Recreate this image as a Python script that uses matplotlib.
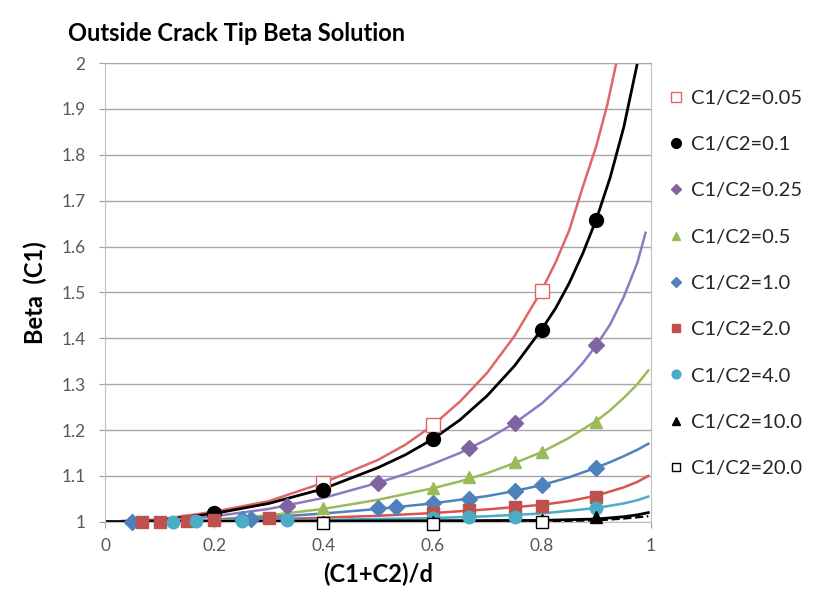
import matplotlib

matplotlib.use("Agg")
import matplotlib.pyplot as plt

plt.rcParams["font.family"] = ["Lato", "DejaVu Sans"]

############### DATA ###############
series_labels = ["C1/C2=0.05", "C1/C2=0.1", "C1/C2=0.25", "C1/C2=0.5", "C1/C2=1.0",
                 "C1/C2=2.0", "C1/C2=4.0", "C1/C2=10.0", "C1/C2=20.0"]

# fitted curves
curve_x_005 = [0, 0.1, 0.2, 0.3, 0.4, 0.5, 0.55, 0.6, 0.65, 0.7, 0.75, 0.8, 0.825, 0.85, 0.875, 0.9, 0.92, 0.94, 0.96]
curve_y_005 = [1.0, 1.005, 1.022, 1.045, 1.085, 1.135, 1.168, 1.21, 1.262, 1.325, 1.405, 1.505, 1.565, 1.635, 1.73, 1.82, 1.91, 2.02, 2.15]
curve_x_01 = [0, 0.1, 0.2, 0.3, 0.4, 0.5, 0.55, 0.6, 0.65, 0.7, 0.75, 0.8, 0.825, 0.85, 0.875, 0.9, 0.925, 0.95, 0.975, 1.0]
curve_y_01 = [1.0, 1.003, 1.018, 1.04, 1.072, 1.118, 1.146, 1.18, 1.222, 1.275, 1.34, 1.42, 1.465, 1.52, 1.585, 1.66, 1.75, 1.86, 2.0, 2.17]
curve_x_025 = [0, 0.1, 0.2, 0.3, 0.4, 0.5, 0.55, 0.6, 0.65, 0.7, 0.75, 0.8, 0.85, 0.875, 0.9, 0.925, 0.95, 0.975, 0.99]
curve_y_025 = [1.0, 1.002, 1.012, 1.028, 1.052, 1.085, 1.104, 1.126, 1.15, 1.18, 1.215, 1.258, 1.313, 1.346, 1.385, 1.43, 1.49, 1.565, 1.63]
curve_x_05 = [0, 0.1, 0.2, 0.3, 0.4, 0.5, 0.6, 0.65, 0.7, 0.75, 0.8, 0.85, 0.9, 0.925, 0.95, 0.975, 0.995]
curve_y_05 = [1.0, 1.001, 1.005, 1.014, 1.028, 1.048, 1.073, 1.088, 1.106, 1.128, 1.152, 1.183, 1.22, 1.243, 1.27, 1.3, 1.33]
curve_x_1 = [0, 0.2, 0.3, 0.4, 0.5, 0.6, 0.7, 0.75, 0.8, 0.85, 0.9, 0.925, 0.95, 0.975, 0.995]
curve_y_1 = [1.0, 1.004, 1.01, 1.018, 1.028, 1.04, 1.056, 1.067, 1.08, 1.097, 1.118, 1.13, 1.143, 1.157, 1.17]
curve_x_2 = [0, 0.3, 0.4, 0.5, 0.6, 0.7, 0.8, 0.85, 0.9, 0.95, 0.975, 0.995]
curve_y_2 = [1.0, 1.005, 1.009, 1.013, 1.019, 1.027, 1.037, 1.045, 1.057, 1.075, 1.087, 1.1]
curve_x_4 = [0, 0.4, 0.6, 0.7, 0.8, 0.9, 0.95, 0.975, 0.995]
curve_y_4 = [1.0, 1.004, 1.008, 1.012, 1.018, 1.03, 1.04, 1.047, 1.055]
curve_x_10 = [0, 0.8, 0.9, 0.95, 0.975, 0.995]
curve_y_10 = [1.0, 1.003, 1.006, 1.011, 1.015, 1.02]
curve_x_20 = [0, 0.8, 0.9, 0.95, 0.995]
curve_y_20 = [1.0, 1.001, 1.003, 1.007, 1.012]

# computed points (markers)
pts_x_005 = [0.4, 0.6, 0.8]
pts_y_005 = [1.085, 1.21, 1.503]
pts_x_01 = [0.2, 0.4, 0.6, 0.8, 0.9]
pts_y_01 = [1.02, 1.07, 1.18, 1.418, 1.658]
pts_x_025 = [0.333, 0.5, 0.667, 0.75, 0.9]
pts_y_025 = [1.035, 1.085, 1.161, 1.215, 1.386]
pts_x_05 = [0.4, 0.6, 0.667, 0.75, 0.8, 0.9]
pts_y_05 = [1.03, 1.074, 1.098, 1.131, 1.152, 1.218]
pts_x_1 = [0.05, 0.25, 0.267, 0.5, 0.533, 0.6, 0.667, 0.75, 0.8, 0.9]
pts_y_1 = [1.0, 1.005, 1.006, 1.03, 1.033, 1.041, 1.05, 1.066, 1.081, 1.118]
pts_x_2 = [0.067, 0.1, 0.15, 0.2, 0.3, 0.6, 0.667, 0.75, 0.8, 0.9]
pts_y_2 = [1.0, 1.0, 1.002, 1.004, 1.008, 1.019, 1.026, 1.033, 1.035, 1.055]
pts_x_4 = [0.125, 0.167, 0.25, 0.333, 0.6, 0.667, 0.75, 0.9]
pts_y_4 = [1.0, 1.001, 1.002, 1.003, 1.008, 1.01, 1.011, 1.03]
pts_x_10 = [0.4, 0.6, 0.8, 0.9]
pts_y_10 = [1.0, 1.0, 1.003, 1.01]
pts_x_20 = [0.4, 0.6, 0.8]
pts_y_20 = [0.998, 0.996, 0.999]

curves_x = [curve_x_005, curve_x_01, curve_x_025, curve_x_05, curve_x_1, curve_x_2, curve_x_4, curve_x_10, curve_x_20]
curves_y = [curve_y_005, curve_y_01, curve_y_025, curve_y_05, curve_y_1, curve_y_2, curve_y_4, curve_y_10, curve_y_20]
points_x = [pts_x_005, pts_x_01, pts_x_025, pts_x_05, pts_x_1, pts_x_2, pts_x_4, pts_x_10, pts_x_20]
points_y = [pts_y_005, pts_y_01, pts_y_025, pts_y_05, pts_y_1, pts_y_2, pts_y_4, pts_y_10, pts_y_20]

############### STYLE ###############
line_colors = ["#E06666", "#000000", "#8E79C4", "#9BBB59", "#4F81BD", "#D9534F", "#4BACC6", "#000000", "#000000"]
line_styles = ["-", "-", "-", "-", "-", "-", "-", "-", "--"]
line_widths = [1.8, 2.0, 1.8, 1.8, 1.8, 1.8, 1.8, 2.0, 1.6]
marker_shapes = ["s", "o", "D", "^", "D", "s", "o", "^", "s"]
marker_faces = ["white", "black", "#8064A2", "#9BBB59", "#4F81BD", "#C0504D", "#4BACC6", "black", "white"]
marker_edges = ["#E06666", "black", "#8064A2", "#9BBB59", "#4F81BD", "#C0504D", "#4BACC6", "black", "black"]
marker_sizes = [10, 10, 8, 9, 8, 8, 9, 8, 9]

fig = plt.figure(figsize=(8.21, 6.06), dpi=100)
ax = fig.add_axes([0.128, 0.139, 0.665, 0.757])

for i in range(len(series_labels)):
    ax.plot(curves_x[i], curves_y[i], color=line_colors[i], linestyle=line_styles[i],
            linewidth=line_widths[i], zorder=2)
for i in range(len(series_labels)):
    ax.plot(points_x[i], points_y[i], linestyle="none", marker=marker_shapes[i],
            markersize=marker_sizes[i], markerfacecolor=marker_faces[i],
            markeredgecolor=marker_edges[i], markeredgewidth=1.0,
            label=series_labels[i], zorder=3, clip_on=False)

ax.set_xlim(0, 1)
ax.set_ylim(1, 2)
ax.set_xticks([0, 0.2, 0.4, 0.6, 0.8, 1])
ax.set_xticklabels(["0", "0.2", "0.4", "0.6", "0.8", "1"])
ax.set_yticks([1, 1.1, 1.2, 1.3, 1.4, 1.5, 1.6, 1.7, 1.8, 1.9, 2])
ax.set_yticklabels(["1", "1.1", "1.2", "1.3", "1.4", "1.5", "1.6", "1.7", "1.8", "1.9", "2"])
ax.tick_params(axis="both", colors="#A0A0A0", labelcolor="#595959", labelsize=12.5, length=4)
ax.tick_params(axis="x", pad=8)
ax.tick_params(axis="y", pad=10)
ax.grid(axis="y", color="#A6A6A6", linewidth=1.0)
ax.set_axisbelow(True)
for side in ["left", "bottom", "right"]:
    ax.spines[side].set_color("#BFBFBF")
ax.spines["top"].set_color("#A6A6A6")

ax.set_title("Outside Crack Tip Beta Solution", fontsize=17, fontweight="bold",
             loc="left", x=-0.068, pad=16)
ax.set_xlabel("(C1+C2)/d", fontsize=17, fontweight="bold", labelpad=6)
ax.set_ylabel("Beta  (C1)", fontsize=17, fontweight="bold", labelpad=10)

fig.legend(loc="upper left", bbox_to_anchor=(0.792, 0.882), frameon=False,
           fontsize=14.5, labelspacing=1.45, handlelength=0.8, handletextpad=0.3,
           markerscale=0.7, labelcolor="#262626")

plt.savefig("out.png", dpi=100)
